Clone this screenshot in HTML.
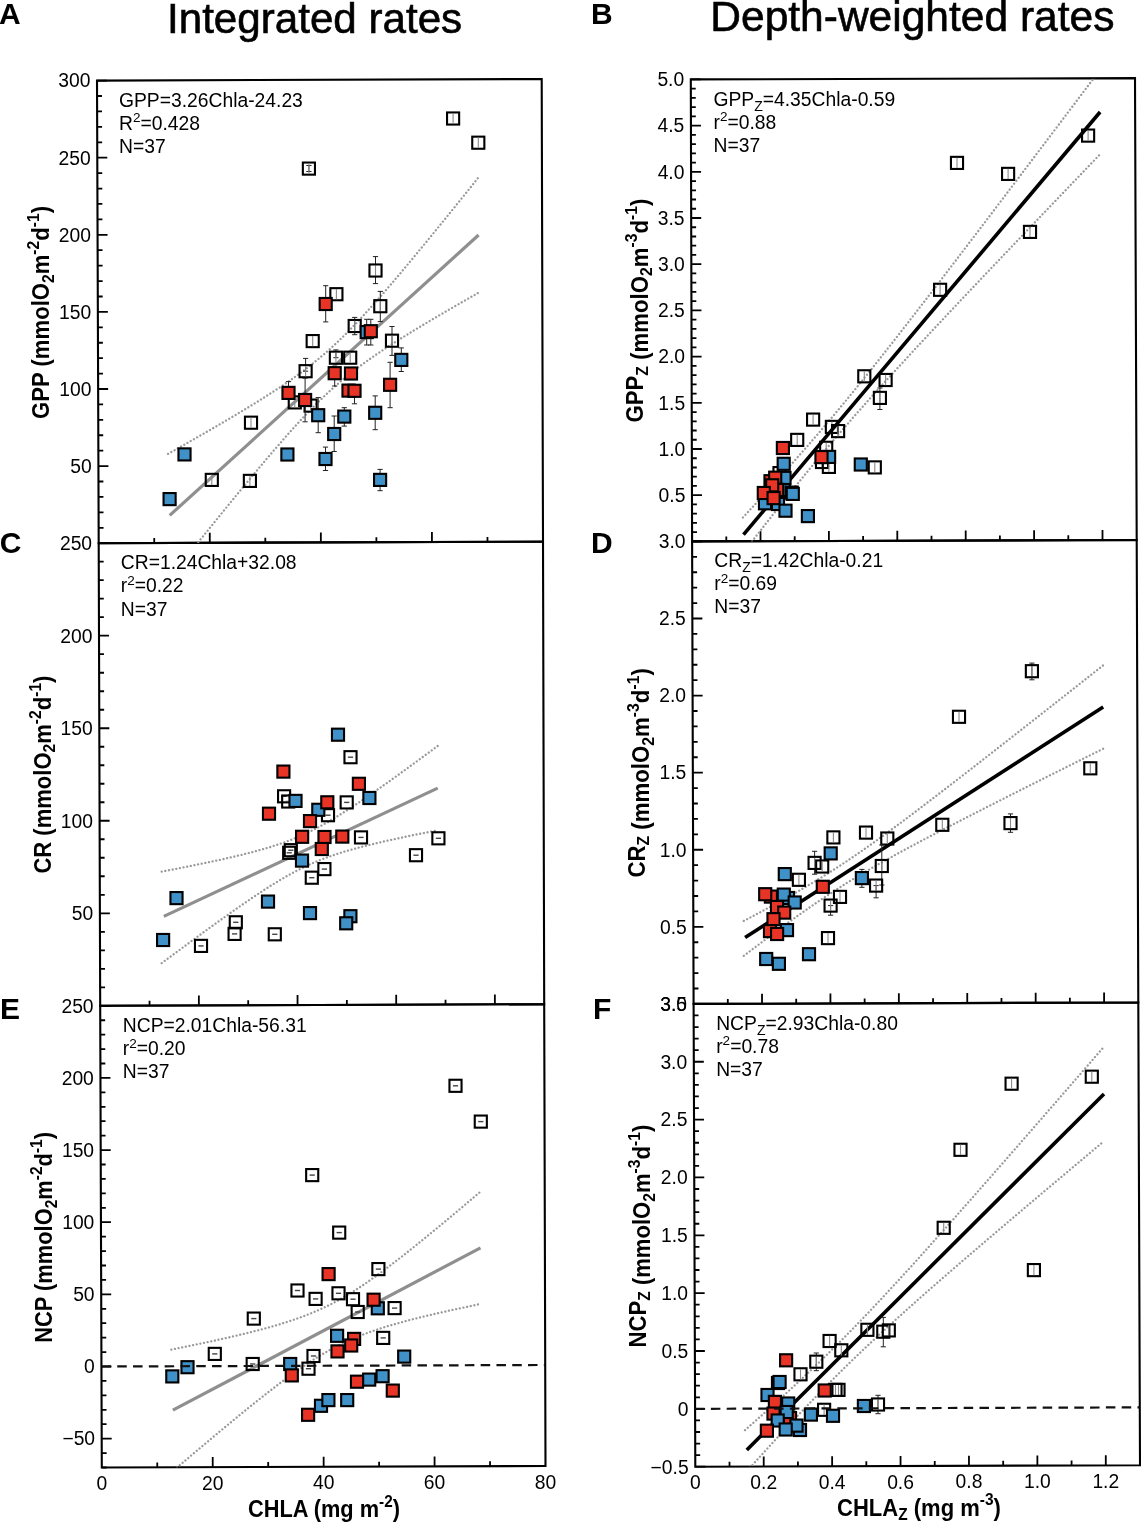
<!DOCTYPE html>
<html><head><meta charset="utf-8"><style>
html,body{margin:0;padding:0;background:#fff;width:1141px;height:1522px;overflow:hidden}
svg{display:block;will-change:transform}
text{font-family:"Liberation Sans", sans-serif;fill:#000}
</style></head><body>
<svg width="1141" height="1522" viewBox="0 0 1141 1522">
<rect width="1141" height="1522" fill="#fff"/>
<polygon points="97,80.6 541.7,79 543,541.6 98.7,543.2" fill="none" stroke="#000" stroke-width="2.1"/>
<polygon points="98.7,543.2 543,541.6 544.2,1004.2 100.2,1005.8" fill="none" stroke="#000" stroke-width="2.1"/>
<polygon points="100.2,1005.8 544.2,1004.2 545.5,1466 101.8,1467.5" fill="none" stroke="#000" stroke-width="2.1"/>
<polygon points="690.8,79.4 1135,78.1 1136.7,540 692.1,541.4" fill="none" stroke="#000" stroke-width="2.1"/>
<polygon points="692.1,541.4 1136.7,540 1138.3,1002.5 693.6,1003.9" fill="none" stroke="#000" stroke-width="2.1"/>
<polygon points="693.6,1003.9 1138.3,1002.5 1140,1465.2 695.3,1466.7" fill="none" stroke="#000" stroke-width="2.1"/>
<path d="M98.7 543.2h10M98.64 527.78h4.9M98.59 512.36h4.9M98.53 496.94h4.9M98.47 481.52h4.9M98.42 466.1h10M98.36 450.68h4.9M98.3 435.26h4.9M98.25 419.84h4.9M98.19 404.42h4.9M98.13 389h10M98.08 373.58h4.9M98.02 358.16h4.9M97.96 342.74h4.9M97.91 327.32h4.9M97.85 311.9h10M97.79 296.48h4.9M97.74 281.06h4.9M97.68 265.64h4.9M97.62 250.22h4.9M97.57 234.8h10M97.51 219.38h4.9M97.45 203.96h4.9M97.4 188.54h4.9M97.34 173.12h4.9M97.28 157.7h10M97.23 142.28h4.9M97.17 126.86h4.9M97.11 111.44h4.9M97.06 96.02h4.9M97 80.6h10" stroke="#000" stroke-width="1.8" fill="none"/>
<text x="91.82" y="472.9" font-size="19.3" text-anchor="end" font-weight="normal">50</text>
<text x="91.53" y="395.8" font-size="19.3" text-anchor="end" font-weight="normal">100</text>
<text x="91.25" y="318.7" font-size="19.3" text-anchor="end" font-weight="normal">150</text>
<text x="90.97" y="241.6" font-size="19.3" text-anchor="end" font-weight="normal">200</text>
<text x="90.68" y="164.5" font-size="19.3" text-anchor="end" font-weight="normal">250</text>
<text x="90.4" y="87.4" font-size="19.3" text-anchor="end" font-weight="normal">300</text>
<path d="M100.2 1005.8h10M100.14 987.3h4.9M100.08 968.79h4.9M100.02 950.29h4.9M99.96 931.78h4.9M99.9 913.28h10M99.84 894.78h4.9M99.78 876.27h4.9M99.72 857.77h4.9M99.66 839.26h4.9M99.6 820.76h10M99.54 802.26h4.9M99.48 783.75h4.9M99.42 765.25h4.9M99.36 746.74h4.9M99.3 728.24h10M99.24 709.74h4.9M99.18 691.23h4.9M99.12 672.73h4.9M99.06 654.22h4.9M99 635.72h10M98.94 617.22h4.9M98.88 598.71h4.9M98.82 580.21h4.9M98.76 561.7h4.9M98.7 543.2h10" stroke="#000" stroke-width="1.8" fill="none"/>
<text x="93.3" y="920.08" font-size="19.3" text-anchor="end" font-weight="normal">50</text>
<text x="93" y="827.56" font-size="19.3" text-anchor="end" font-weight="normal">100</text>
<text x="92.7" y="735.04" font-size="19.3" text-anchor="end" font-weight="normal">150</text>
<text x="92.4" y="642.52" font-size="19.3" text-anchor="end" font-weight="normal">200</text>
<text x="92.1" y="550" font-size="19.3" text-anchor="end" font-weight="normal">250</text>
<path d="M101.8 1467.5h4.9M101.75 1453.07h4.9M101.7 1438.64h10M101.65 1424.22h4.9M101.6 1409.79h4.9M101.55 1395.36h4.9M101.5 1380.93h4.9M101.45 1366.5h10M101.4 1352.08h4.9M101.35 1337.65h4.9M101.3 1323.22h4.9M101.25 1308.79h4.9M101.2 1294.36h10M101.15 1279.93h4.9M101.1 1265.51h4.9M101.05 1251.08h4.9M101 1236.65h4.9M100.95 1222.22h10M100.9 1207.79h4.9M100.85 1193.37h4.9M100.8 1178.94h4.9M100.75 1164.51h4.9M100.7 1150.08h10M100.65 1135.65h4.9M100.6 1121.22h4.9M100.55 1106.8h4.9M100.5 1092.37h4.9M100.45 1077.94h10M100.4 1063.51h4.9M100.35 1049.08h4.9M100.3 1034.66h4.9M100.25 1020.23h4.9M100.2 1005.8h10" stroke="#000" stroke-width="1.8" fill="none"/>
<text x="95.1" y="1445.44" font-size="19.3" text-anchor="end" font-weight="normal">−50</text>
<text x="94.85" y="1373.3" font-size="19.3" text-anchor="end" font-weight="normal">0</text>
<text x="94.6" y="1301.16" font-size="19.3" text-anchor="end" font-weight="normal">50</text>
<text x="94.35" y="1229.02" font-size="19.3" text-anchor="end" font-weight="normal">100</text>
<text x="94.1" y="1156.88" font-size="19.3" text-anchor="end" font-weight="normal">150</text>
<text x="93.85" y="1084.74" font-size="19.3" text-anchor="end" font-weight="normal">200</text>
<text x="93.6" y="1012.6" font-size="19.3" text-anchor="end" font-weight="normal">250</text>
<path d="M692.1 541.4h10M692.07 532.16h4.9M692.05 522.92h4.9M692.02 513.68h4.9M692 504.44h4.9M691.97 495.2h10M691.94 485.96h4.9M691.92 476.72h4.9M691.89 467.48h4.9M691.87 458.24h4.9M691.84 449h10M691.81 439.76h4.9M691.79 430.52h4.9M691.76 421.28h4.9M691.74 412.04h4.9M691.71 402.8h10M691.68 393.56h4.9M691.66 384.32h4.9M691.63 375.08h4.9M691.61 365.84h4.9M691.58 356.6h10M691.55 347.36h4.9M691.53 338.12h4.9M691.5 328.88h4.9M691.48 319.64h4.9M691.45 310.4h10M691.42 301.16h4.9M691.4 291.92h4.9M691.37 282.68h4.9M691.35 273.44h4.9M691.32 264.2h10M691.29 254.96h4.9M691.27 245.72h4.9M691.24 236.48h4.9M691.22 227.24h4.9M691.19 218h10M691.16 208.76h4.9M691.14 199.52h4.9M691.11 190.28h4.9M691.09 181.04h4.9M691.06 171.8h10M691.03 162.56h4.9M691.01 153.32h4.9M690.98 144.08h4.9M690.96 134.84h4.9M690.93 125.6h10M690.9 116.36h4.9M690.88 107.12h4.9M690.85 97.88h4.9M690.83 88.64h4.9M690.8 79.4h10" stroke="#000" stroke-width="1.8" fill="none"/>
<text x="685.37" y="502" font-size="19.3" text-anchor="end" font-weight="normal">0.5</text>
<text x="685.24" y="455.8" font-size="19.3" text-anchor="end" font-weight="normal">1.0</text>
<text x="685.11" y="409.6" font-size="19.3" text-anchor="end" font-weight="normal">1.5</text>
<text x="684.98" y="363.4" font-size="19.3" text-anchor="end" font-weight="normal">2.0</text>
<text x="684.85" y="317.2" font-size="19.3" text-anchor="end" font-weight="normal">2.5</text>
<text x="684.72" y="271" font-size="19.3" text-anchor="end" font-weight="normal">3.0</text>
<text x="684.59" y="224.8" font-size="19.3" text-anchor="end" font-weight="normal">3.5</text>
<text x="684.46" y="178.6" font-size="19.3" text-anchor="end" font-weight="normal">4.0</text>
<text x="684.33" y="132.4" font-size="19.3" text-anchor="end" font-weight="normal">4.5</text>
<text x="684.2" y="86.2" font-size="19.3" text-anchor="end" font-weight="normal">5.0</text>
<path d="M693.6 1003.9h10M693.55 988.48h4.9M693.5 973.07h4.9M693.45 957.65h4.9M693.4 942.23h4.9M693.35 926.82h10M693.3 911.4h4.9M693.25 895.98h4.9M693.2 880.57h4.9M693.15 865.15h4.9M693.1 849.73h10M693.05 834.32h4.9M693 818.9h4.9M692.95 803.48h4.9M692.9 788.07h4.9M692.85 772.65h10M692.8 757.23h4.9M692.75 741.82h4.9M692.7 726.4h4.9M692.65 710.98h4.9M692.6 695.57h10M692.55 680.15h4.9M692.5 664.73h4.9M692.45 649.32h4.9M692.4 633.9h4.9M692.35 618.48h10M692.3 603.07h4.9M692.25 587.65h4.9M692.2 572.23h4.9M692.15 556.82h4.9M692.1 541.4h10" stroke="#000" stroke-width="1.8" fill="none"/>
<text x="686.75" y="933.62" font-size="19.3" text-anchor="end" font-weight="normal">0.5</text>
<text x="686.5" y="856.53" font-size="19.3" text-anchor="end" font-weight="normal">1.0</text>
<text x="686.25" y="779.45" font-size="19.3" text-anchor="end" font-weight="normal">1.5</text>
<text x="686" y="702.37" font-size="19.3" text-anchor="end" font-weight="normal">2.0</text>
<text x="685.75" y="625.28" font-size="19.3" text-anchor="end" font-weight="normal">2.5</text>
<text x="685.5" y="548.2" font-size="19.3" text-anchor="end" font-weight="normal">3.0</text>
<path d="M695.3 1466.7h10M695.26 1455.13h4.9M695.22 1443.56h4.9M695.17 1431.99h4.9M695.13 1420.42h4.9M695.09 1408.85h10M695.05 1397.28h4.9M695 1385.71h4.9M694.96 1374.14h4.9M694.92 1362.57h4.9M694.87 1351h10M694.83 1339.43h4.9M694.79 1327.86h4.9M694.75 1316.29h4.9M694.71 1304.72h4.9M694.66 1293.15h10M694.62 1281.58h4.9M694.58 1270.01h4.9M694.54 1258.44h4.9M694.49 1246.87h4.9M694.45 1235.3h10M694.41 1223.73h4.9M694.37 1212.16h4.9M694.32 1200.59h4.9M694.28 1189.02h4.9M694.24 1177.45h10M694.19 1165.88h4.9M694.15 1154.31h4.9M694.11 1142.74h4.9M694.07 1131.17h4.9M694.03 1119.6h10M693.98 1108.03h4.9M693.94 1096.46h4.9M693.9 1084.89h4.9M693.86 1073.32h4.9M693.81 1061.75h10M693.77 1050.18h4.9M693.73 1038.61h4.9M693.69 1027.04h4.9M693.64 1015.47h4.9M693.6 1003.9h10" stroke="#000" stroke-width="1.8" fill="none"/>
<text x="688.7" y="1473.5" font-size="19.3" text-anchor="end" font-weight="normal">−0.5</text>
<text x="688.49" y="1415.65" font-size="19.3" text-anchor="end" font-weight="normal">0</text>
<text x="688.27" y="1357.8" font-size="19.3" text-anchor="end" font-weight="normal">0.5</text>
<text x="688.06" y="1299.95" font-size="19.3" text-anchor="end" font-weight="normal">1.0</text>
<text x="687.85" y="1242.1" font-size="19.3" text-anchor="end" font-weight="normal">1.5</text>
<text x="687.64" y="1184.25" font-size="19.3" text-anchor="end" font-weight="normal">2.0</text>
<text x="687.43" y="1126.4" font-size="19.3" text-anchor="end" font-weight="normal">2.5</text>
<text x="687.21" y="1068.55" font-size="19.3" text-anchor="end" font-weight="normal">3.0</text>
<text x="687" y="1010.7" font-size="19.3" text-anchor="end" font-weight="normal">3.5</text>
<text x="687" y="1010.7" font-size="19.3" text-anchor="end" font-weight="normal">3.0</text>
<path d="M154.24 543v-4.9M209.78 542.8v-10M265.31 542.6v-4.9M320.85 542.4v-10M376.39 542.2v-4.9M431.93 542v-10M487.46 541.8v-4.9" stroke="#000" stroke-width="1.8" fill="none"/>
<path d="M149.53 1005.62v-4.9M198.87 1005.44v-10M248.2 1005.27v-4.9M297.53 1005.09v-10M346.87 1004.91v-4.9M396.2 1004.73v-10M445.53 1004.56v-4.9M494.87 1004.38v-10" stroke="#000" stroke-width="1.8" fill="none"/>
<path d="M157.26 1467.31v-4.9M212.72 1467.12v-10M268.19 1466.94v-4.9M323.65 1466.75v-10M379.11 1466.56v-4.9M434.57 1466.38v-10M490.04 1466.19v-4.9" stroke="#000" stroke-width="1.8" fill="none"/>
<path d="M726.3 541.29v-4.9M760.5 541.18v-10M794.7 541.08v-4.9M828.9 540.97v-10M863.1 540.86v-4.9M897.3 540.75v-10M931.5 540.65v-4.9M965.7 540.54v-10M999.9 540.43v-4.9M1034.1 540.32v-10M1068.3 540.22v-4.9M1102.5 540.11v-10" stroke="#000" stroke-width="1.8" fill="none"/>
<path d="M727.81 1003.79v-4.9M762.02 1003.68v-10M796.22 1003.58v-4.9M830.43 1003.47v-10M864.64 1003.36v-4.9M898.85 1003.25v-10M933.05 1003.15v-4.9M967.26 1003.04v-10M1001.47 1002.93v-4.9M1035.68 1002.82v-10M1069.88 1002.72v-4.9M1104.09 1002.61v-10" stroke="#000" stroke-width="1.8" fill="none"/>
<path d="M729.51 1466.58v-4.9M763.72 1466.47v-10M797.92 1466.35v-4.9M832.13 1466.24v-10M866.34 1466.12v-4.9M900.55 1466.01v-10M934.75 1465.89v-4.9M968.96 1465.78v-10M1003.17 1465.66v-4.9M1037.38 1465.55v-10M1071.58 1465.43v-4.9M1105.79 1465.32v-10" stroke="#000" stroke-width="1.8" fill="none"/>
<text x="101.8" y="1490" font-size="19.3" text-anchor="middle" font-weight="normal">0</text>
<text x="212.72" y="1489.62" font-size="19.3" text-anchor="middle" font-weight="normal">20</text>
<text x="323.65" y="1489.25" font-size="19.3" text-anchor="middle" font-weight="normal">40</text>
<text x="434.57" y="1488.88" font-size="19.3" text-anchor="middle" font-weight="normal">60</text>
<text x="545.5" y="1488.5" font-size="19.3" text-anchor="middle" font-weight="normal">80</text>
<text x="695.3" y="1489.2" font-size="19.3" text-anchor="middle" font-weight="normal">0</text>
<text x="763.72" y="1488.97" font-size="19.3" text-anchor="middle" font-weight="normal">0.2</text>
<text x="832.13" y="1488.74" font-size="19.3" text-anchor="middle" font-weight="normal">0.4</text>
<text x="900.55" y="1488.51" font-size="19.3" text-anchor="middle" font-weight="normal">0.6</text>
<text x="968.96" y="1488.28" font-size="19.3" text-anchor="middle" font-weight="normal">0.8</text>
<text x="1037.38" y="1488.05" font-size="19.3" text-anchor="middle" font-weight="normal">1.0</text>
<text x="1105.79" y="1487.82" font-size="19.3" text-anchor="middle" font-weight="normal">1.2</text>
<text x="167" y="33" font-size="42.15" text-anchor="start" font-weight="normal" stroke="#000" stroke-width="0.6">Integrated rates</text>
<text x="710.3" y="31" font-size="42.53" text-anchor="start" font-weight="normal" stroke="#000" stroke-width="0.6">Depth-weighted rates</text>
<text x="-1" y="23.8" font-size="30" text-anchor="start" font-weight="bold">A</text>
<text x="591" y="24" font-size="30" text-anchor="start" font-weight="bold">B</text>
<text x="-0.2" y="552.7" font-size="30" text-anchor="start" font-weight="bold">C</text>
<text x="591" y="552.7" font-size="30" text-anchor="start" font-weight="bold">D</text>
<text x="0" y="1018.8" font-size="30" text-anchor="start" font-weight="bold">E</text>
<text x="593.1" y="1018.8" font-size="30" text-anchor="start" font-weight="bold">F</text>
<text x="119" y="106.8" font-size="19.3">GPP=3.26Chla-24.23</text>
<text x="119" y="129.7" font-size="19.3">R<tspan dy="-7.5" font-size="13.5">2</tspan><tspan dy="7.5">=0.428</tspan></text>
<text x="119" y="152.5" font-size="19.3">N=37</text>
<text x="120.8" y="568.7" font-size="19.3">CR=1.24Chla+32.08</text>
<text x="120.8" y="592.3" font-size="19.3">r<tspan dy="-7.5" font-size="13.5">2</tspan><tspan dy="7.5">=0.22</tspan></text>
<text x="120.8" y="615.5" font-size="19.3">N=37</text>
<text x="122.8" y="1031.7" font-size="19.3">NCP=2.01Chla-56.31</text>
<text x="122.8" y="1055" font-size="19.3">r<tspan dy="-7.5" font-size="13.5">2</tspan><tspan dy="7.5">=0.20</tspan></text>
<text x="122.8" y="1078.1" font-size="19.3">N=37</text>
<text x="713.5" y="105.7" font-size="19.3">GPP<tspan dy="5" font-size="14">Z</tspan><tspan dy="-5">=4.35Chla-0.59</tspan></text>
<text x="713.5" y="128.8" font-size="19.3">r<tspan dy="-7.5" font-size="13.5">2</tspan><tspan dy="7.5">=0.88</tspan></text>
<text x="713.5" y="151.6" font-size="19.3">N=37</text>
<text x="714.3" y="566.9" font-size="19.3">CR<tspan dy="5" font-size="14">Z</tspan><tspan dy="-5">=1.42Chla-0.21</tspan></text>
<text x="714.3" y="590.2" font-size="19.3">r<tspan dy="-7.5" font-size="13.5">2</tspan><tspan dy="7.5">=0.69</tspan></text>
<text x="714.3" y="613.4" font-size="19.3">N=37</text>
<text x="716.2" y="1029.9" font-size="19.3">NCP<tspan dy="5" font-size="14">Z</tspan><tspan dy="-5">=2.93Chla-0.80</tspan></text>
<text x="716.2" y="1052.7" font-size="19.3">r<tspan dy="-7.5" font-size="13.5">2</tspan><tspan dy="7.5">=0.78</tspan></text>
<text x="716.2" y="1075.5" font-size="19.3">N=37</text>
<text transform="translate(49.3,418.9) rotate(-90) scale(0.961,1)" x="0" y="0" font-size="23.0" font-weight="bold">GPP (mmolO<tspan dy="4.5" font-size="16.3">2</tspan><tspan dy="-4.5">m</tspan><tspan dy="-10.3" font-size="16.3">-2</tspan><tspan dy="10.3">d</tspan><tspan dy="-10.3" font-size="16.3">-1</tspan><tspan dy="10.3">)</tspan></text>
<text transform="translate(50.8,873.6) rotate(-90) scale(0.958,1)" x="0" y="0" font-size="23.0" font-weight="bold">CR (mmolO<tspan dy="4.5" font-size="16.3">2</tspan><tspan dy="-4.5">m</tspan><tspan dy="-10.3" font-size="16.3">-2</tspan><tspan dy="10.3">d</tspan><tspan dy="-10.3" font-size="16.3">-1</tspan><tspan dy="10.3">)</tspan></text>
<text transform="translate(52.1,1342.8) rotate(-90) scale(0.951,1)" x="0" y="0" font-size="23.0" font-weight="bold">NCP (mmolO<tspan dy="4.5" font-size="16.3">2</tspan><tspan dy="-4.5">m</tspan><tspan dy="-10.3" font-size="16.3">-2</tspan><tspan dy="10.3">d</tspan><tspan dy="-10.3" font-size="16.3">-1</tspan><tspan dy="10.3">)</tspan></text>
<text transform="translate(643,422.5) rotate(-90) scale(0.965,1)" x="0" y="0" font-size="23.0" font-weight="bold">GPP<tspan dy="4.5" font-size="16.3">Z</tspan><tspan dy="-4.5"></tspan> (mmolO<tspan dy="4.5" font-size="16.3">2</tspan><tspan dy="-4.5">m</tspan><tspan dy="-10.3" font-size="16.3">-3</tspan><tspan dy="10.3">d</tspan><tspan dy="-10.3" font-size="16.3">-1</tspan><tspan dy="10.3">)</tspan></text>
<text transform="translate(644.7,877.6) rotate(-90) scale(0.967,1)" x="0" y="0" font-size="23.0" font-weight="bold">CR<tspan dy="4.5" font-size="16.3">Z</tspan><tspan dy="-4.5"></tspan> (mmolO<tspan dy="4.5" font-size="16.3">2</tspan><tspan dy="-4.5">m</tspan><tspan dy="-10.3" font-size="16.3">-3</tspan><tspan dy="10.3">d</tspan><tspan dy="-10.3" font-size="16.3">-1</tspan><tspan dy="10.3">)</tspan></text>
<text transform="translate(645.5,1347.4) rotate(-90) scale(0.96,1)" x="0" y="0" font-size="23.0" font-weight="bold">NCP<tspan dy="4.5" font-size="16.3">Z</tspan><tspan dy="-4.5"></tspan> (mmolO<tspan dy="4.5" font-size="16.3">2</tspan><tspan dy="-4.5">m</tspan><tspan dy="-10.3" font-size="16.3">-3</tspan><tspan dy="10.3">d</tspan><tspan dy="-10.3" font-size="16.3">-1</tspan><tspan dy="10.3">)</tspan></text>
<text transform="translate(248,1517.3) scale(0.939,1)" font-size="23.2" font-weight="bold">CHLA (mg m<tspan dy="-10.3" font-size="16.3">-2</tspan><tspan dy="10.3">)</tspan></text>
<text transform="translate(837,1515.5) scale(0.95,1)" font-size="23.2" font-weight="bold">CHLA<tspan dy="4.5" font-size="16.3">Z</tspan><tspan dy="-4.5"> (mg m</tspan><tspan dy="-10.3" font-size="16.3">-3</tspan><tspan dy="10.3">)</tspan></text>
<clipPath id="clp1"><polygon points="97,80.6 541.7,79 543,541.6 98.7,543.2"/></clipPath>
<polyline clip-path="url(#clp1)" points="168.1,453.84 171.98,451.65 175.86,449.46 179.74,447.26 183.62,445.05 187.51,442.85 191.39,440.63 195.27,438.42 199.15,436.19 203.03,433.96 206.91,431.73 210.79,429.48 214.68,427.23 218.56,424.97 222.44,422.7 226.32,420.43 230.2,418.14 234.08,415.84 237.96,413.52 241.84,411.2 245.72,408.86 249.61,406.5 253.49,404.12 257.37,401.72 261.25,399.31 265.13,396.86 269.01,394.39 272.89,391.89 276.77,389.36 280.66,386.79 284.54,384.18 288.42,381.52 292.3,378.81 296.18,376.05 300.06,373.24 303.94,370.35 307.82,367.4 311.71,364.37 315.59,361.26 319.47,358.06 323.35,354.77 327.23,351.39 331.11,347.92 334.99,344.35 338.88,340.68 342.76,336.93 346.64,333.08 350.52,329.15 354.4,325.13 358.28,321.04 362.16,316.88 366.04,312.66 369.92,308.37 373.81,304.03 377.69,299.64 381.57,295.21 385.45,290.73 389.33,286.22 393.21,281.68 397.09,277.1 400.98,272.5 404.86,267.87 408.74,263.22 412.62,258.55 416.5,253.87 420.38,249.16 424.26,244.44 428.14,239.71 432.02,234.96 435.91,230.21 439.79,225.44 443.67,220.66 447.55,215.87 451.43,211.08 455.31,206.28 459.19,201.47 463.08,196.65 466.96,191.83 470.84,187 474.72,182.16 478.6,177.33" fill="none" stroke="#999999" stroke-width="2.3" stroke-dasharray="0.01 3.7" stroke-linecap="round"/>
<polyline clip-path="url(#clp1)" points="168.1,579.86 171.98,575.01 175.86,570.16 179.74,565.31 183.62,560.47 187.51,555.63 191.39,550.79 195.27,545.97 199.15,541.14 203.03,536.33 206.91,531.52 210.79,526.71 214.68,521.92 218.56,517.13 222.44,512.35 226.32,507.58 230.2,502.83 234.08,498.08 237.96,493.35 241.84,488.63 245.72,483.92 249.61,479.23 253.49,474.56 257.37,469.92 261.25,465.29 265.13,460.69 269.01,456.11 272.89,451.56 276.77,447.05 280.66,442.58 284.54,438.14 288.42,433.75 292.3,429.41 296.18,425.12 300.06,420.89 303.94,416.73 307.82,412.64 311.71,408.62 315.59,404.69 319.47,400.84 323.35,397.08 327.23,393.41 331.11,389.84 334.99,386.37 338.88,382.98 342.76,379.69 346.64,376.49 350.52,373.38 354.4,370.35 358.28,367.39 362.16,364.51 366.04,361.69 369.92,358.93 373.81,356.22 377.69,353.56 381.57,350.95 385.45,348.38 389.33,345.84 393.21,343.34 397.09,340.87 400.98,338.43 404.86,336.01 408.74,333.61 412.62,331.23 416.5,328.87 420.38,326.53 424.26,324.21 428.14,321.89 432.02,319.59 435.91,317.3 439.79,315.02 443.67,312.76 447.55,310.5 451.43,308.25 455.31,306 459.19,303.77 463.08,301.54 466.96,299.31 470.84,297.09 474.72,294.88 478.6,292.67" fill="none" stroke="#999999" stroke-width="2.3" stroke-dasharray="0.01 3.7" stroke-linecap="round"/>
<path d="M169.7 515.4L478.6 235" stroke="#8f8f8f" stroke-width="3.2" fill="none"/>
<path d="M308.9 165.5V171.5M306.3 165.5h5.2M306.3 171.5h5.2" stroke="#222" stroke-width="1.0" fill="none"/>
<rect x="302.85" y="162.55" width="12.1" height="12.1" fill="none" stroke="#000" stroke-width="2.1"/>
<path d="M308.9 163.45V173.75" stroke="#8a8a8a" stroke-width="1.1"/>
<rect x="447.05" y="112.45" width="12.1" height="12.1" fill="none" stroke="#000" stroke-width="2.1"/>
<path d="M453.1 113.35V123.65" stroke="#8a8a8a" stroke-width="1.1"/>
<rect x="472.25" y="136.65" width="12.1" height="12.1" fill="none" stroke="#000" stroke-width="2.1"/>
<path d="M478.3 137.55V147.85" stroke="#8a8a8a" stroke-width="1.1"/>
<path d="M375.5 256.6V283.6M372.9 256.6h5.2M372.9 283.6h5.2" stroke="#222" stroke-width="1.0" fill="none"/>
<rect x="369.45" y="264.45" width="12.1" height="12.1" fill="none" stroke="#000" stroke-width="2.1"/>
<path d="M375.5 265.35V275.65" stroke="#8a8a8a" stroke-width="1.1"/>
<rect x="330.35" y="288.15" width="12.1" height="12.1" fill="none" stroke="#000" stroke-width="2.1"/>
<path d="M336.4 289.05V299.35" stroke="#8a8a8a" stroke-width="1.1"/>
<path d="M380.3 291.4V321.6M377.7 291.4h5.2M377.7 321.6h5.2" stroke="#222" stroke-width="1.0" fill="none"/>
<rect x="374.25" y="300.15" width="12.1" height="12.1" fill="none" stroke="#000" stroke-width="2.1"/>
<path d="M380.3 301.05V311.35" stroke="#8a8a8a" stroke-width="1.1"/>
<path d="M354.7 317.4V334.7M352.1 317.4h5.2M352.1 334.7h5.2" stroke="#222" stroke-width="1.0" fill="none"/>
<rect x="348.65" y="319.95" width="12.1" height="12.1" fill="none" stroke="#000" stroke-width="2.1"/>
<path d="M354.7 320.85V331.15" stroke="#8a8a8a" stroke-width="1.1"/>
<path d="M392 326.5V355.4M389.4 326.5h5.2M389.4 355.4h5.2" stroke="#222" stroke-width="1.0" fill="none"/>
<rect x="385.95" y="334.65" width="12.1" height="12.1" fill="none" stroke="#000" stroke-width="2.1"/>
<path d="M392 335.55V345.85" stroke="#8a8a8a" stroke-width="1.1"/>
<rect x="306.65" y="335.05" width="12.1" height="12.1" fill="none" stroke="#000" stroke-width="2.1"/>
<path d="M312.7 335.95V346.25" stroke="#8a8a8a" stroke-width="1.1"/>
<path d="M335.9 349.9V357.7M333.3 349.9h5.2M333.3 357.7h5.2" stroke="#222" stroke-width="1.0" fill="none"/>
<rect x="329.85" y="351.65" width="12.1" height="12.1" fill="none" stroke="#000" stroke-width="2.1"/>
<path d="M335.9 352.55V362.85" stroke="#8a8a8a" stroke-width="1.1"/>
<rect x="344.15" y="351.65" width="12.1" height="12.1" fill="none" stroke="#000" stroke-width="2.1"/>
<path d="M350.2 352.55V362.85" stroke="#8a8a8a" stroke-width="1.1"/>
<path d="M305.6 358.4V371.2M303 358.4h5.2M303 371.2h5.2" stroke="#222" stroke-width="1.0" fill="none"/>
<rect x="299.55" y="365.15" width="12.1" height="12.1" fill="none" stroke="#000" stroke-width="2.1"/>
<path d="M305.6 366.05V376.35" stroke="#8a8a8a" stroke-width="1.1"/>
<rect x="288.75" y="396.35" width="12.1" height="12.1" fill="none" stroke="#000" stroke-width="2.1"/>
<path d="M294.8 397.25V407.55" stroke="#8a8a8a" stroke-width="1.1"/>
<rect x="304.55" y="399.55" width="12.1" height="12.1" fill="none" stroke="#000" stroke-width="2.1"/>
<path d="M310.6 400.45V410.75" stroke="#8a8a8a" stroke-width="1.1"/>
<rect x="244.95" y="416.65" width="12.1" height="12.1" fill="none" stroke="#000" stroke-width="2.1"/>
<path d="M251 417.55V427.85" stroke="#8a8a8a" stroke-width="1.1"/>
<rect x="205.75" y="473.85" width="12.1" height="12.1" fill="none" stroke="#000" stroke-width="2.1"/>
<path d="M211.8 474.75V485.05" stroke="#8a8a8a" stroke-width="1.1"/>
<rect x="243.85" y="474.85" width="12.1" height="12.1" fill="none" stroke="#000" stroke-width="2.1"/>
<path d="M249.9 475.75V486.05" stroke="#8a8a8a" stroke-width="1.1"/>
<path d="M366.7 319.3V345M364.1 319.3h5.2M364.1 345h5.2" stroke="#222" stroke-width="1.0" fill="none"/>
<rect x="360.65" y="326.05" width="12.1" height="12.1" fill="#3f91c8" stroke="#000" stroke-width="2.1"/>
<path d="M401.3 347.9V371.5M398.7 347.9h5.2M398.7 371.5h5.2" stroke="#222" stroke-width="1.0" fill="none"/>
<rect x="395.25" y="353.85" width="12.1" height="12.1" fill="#3f91c8" stroke="#000" stroke-width="2.1"/>
<path d="M318.2 397.6V432.7M315.6 397.6h5.2M315.6 432.7h5.2" stroke="#222" stroke-width="1.0" fill="none"/>
<rect x="312.15" y="409.15" width="12.1" height="12.1" fill="#3f91c8" stroke="#000" stroke-width="2.1"/>
<path d="M344.3 407.7V426.1M341.7 407.7h5.2M341.7 426.1h5.2" stroke="#222" stroke-width="1.0" fill="none"/>
<rect x="338.25" y="410.55" width="12.1" height="12.1" fill="#3f91c8" stroke="#000" stroke-width="2.1"/>
<path d="M375.2 395.9V429.7M372.6 395.9h5.2M372.6 429.7h5.2" stroke="#222" stroke-width="1.0" fill="none"/>
<rect x="369.15" y="406.75" width="12.1" height="12.1" fill="#3f91c8" stroke="#000" stroke-width="2.1"/>
<path d="M334.2 416V451.5M331.6 416h5.2M331.6 451.5h5.2" stroke="#222" stroke-width="1.0" fill="none"/>
<rect x="328.15" y="427.95" width="12.1" height="12.1" fill="#3f91c8" stroke="#000" stroke-width="2.1"/>
<rect x="281.35" y="448.45" width="12.1" height="12.1" fill="#3f91c8" stroke="#000" stroke-width="2.1"/>
<path d="M325.5 447.1V470.5M322.9 447.1h5.2M322.9 470.5h5.2" stroke="#222" stroke-width="1.0" fill="none"/>
<rect x="319.45" y="452.95" width="12.1" height="12.1" fill="#3f91c8" stroke="#000" stroke-width="2.1"/>
<path d="M380.1 469.4V490.7M377.5 469.4h5.2M377.5 490.7h5.2" stroke="#222" stroke-width="1.0" fill="none"/>
<rect x="374.05" y="473.85" width="12.1" height="12.1" fill="#3f91c8" stroke="#000" stroke-width="2.1"/>
<rect x="163.55" y="493.05" width="12.1" height="12.1" fill="#3f91c8" stroke="#000" stroke-width="2.1"/>
<rect x="178.45" y="448.35" width="12.1" height="12.1" fill="#3f91c8" stroke="#000" stroke-width="2.1"/>
<path d="M325.7 285.7V321.9M323.1 285.7h5.2M323.1 321.9h5.2" stroke="#222" stroke-width="1.0" fill="none"/>
<rect x="319.65" y="297.95" width="12.1" height="12.1" fill="#e83426" stroke="#000" stroke-width="2.1"/>
<path d="M370.8 319.3V345M368.2 319.3h5.2M368.2 345h5.2" stroke="#222" stroke-width="1.0" fill="none"/>
<rect x="364.75" y="325.15" width="12.1" height="12.1" fill="#e83426" stroke="#000" stroke-width="2.1"/>
<path d="M334.7 373.2V386M332.1 373.2h5.2M332.1 386h5.2" stroke="#222" stroke-width="1.0" fill="none"/>
<rect x="328.65" y="367.15" width="12.1" height="12.1" fill="#e83426" stroke="#000" stroke-width="2.1"/>
<rect x="344.95" y="367.45" width="12.1" height="12.1" fill="#e83426" stroke="#000" stroke-width="2.1"/>
<path d="M288.5 381.6V392.9M285.9 381.6h5.2M285.9 392.9h5.2" stroke="#222" stroke-width="1.0" fill="none"/>
<rect x="282.45" y="386.85" width="12.1" height="12.1" fill="#e83426" stroke="#000" stroke-width="2.1"/>
<path d="M305.1 378.2V421.8M302.5 378.2h5.2M302.5 421.8h5.2" stroke="#222" stroke-width="1.0" fill="none"/>
<rect x="299.05" y="393.95" width="12.1" height="12.1" fill="#e83426" stroke="#000" stroke-width="2.1"/>
<rect x="342.45" y="384.55" width="12.1" height="12.1" fill="#e83426" stroke="#000" stroke-width="2.1"/>
<path d="M354.5 390.8V403.8M351.9 390.8h5.2M351.9 403.8h5.2" stroke="#222" stroke-width="1.0" fill="none"/>
<rect x="348.45" y="384.75" width="12.1" height="12.1" fill="#e83426" stroke="#000" stroke-width="2.1"/>
<path d="M390.1 362.3V407.7M387.5 362.3h5.2M387.5 407.7h5.2" stroke="#222" stroke-width="1.0" fill="none"/>
<rect x="384.05" y="378.75" width="12.1" height="12.1" fill="#e83426" stroke="#000" stroke-width="2.1"/>
<clipPath id="clp2"><polygon points="98.7,543.2 543,541.6 544.2,1004.2 100.2,1005.8"/></clipPath>
<polyline clip-path="url(#clp2)" points="161.7,871.65 165.15,870.98 168.6,870.31 172.05,869.64 175.5,868.96 178.95,868.29 182.4,867.6 185.85,866.92 189.3,866.22 192.75,865.53 196.2,864.82 199.65,864.12 203.1,863.4 206.55,862.68 210,861.95 213.45,861.22 216.9,860.47 220.35,859.72 223.8,858.95 227.25,858.18 230.7,857.39 234.15,856.59 237.6,855.78 241.05,854.94 244.5,854.1 247.95,853.23 251.4,852.34 254.85,851.43 258.3,850.5 261.75,849.53 265.2,848.54 268.65,847.52 272.1,846.45 275.55,845.35 279,844.21 282.45,843.02 285.9,841.78 289.35,840.49 292.8,839.14 296.25,837.74 299.7,836.27 303.15,834.74 306.6,833.15 310.05,831.5 313.5,829.78 316.95,828 320.4,826.16 323.85,824.26 327.3,822.31 330.75,820.31 334.2,818.25 337.65,816.15 341.1,814.01 344.55,811.84 348,809.62 351.45,807.38 354.9,805.1 358.35,802.8 361.8,800.47 365.25,798.12 368.7,795.75 372.15,793.36 375.6,790.96 379.05,788.54 382.5,786.1 385.95,783.66 389.4,781.2 392.85,778.73 396.3,776.25 399.75,773.76 403.2,771.26 406.65,768.75 410.1,766.24 413.55,763.72 417,761.2 420.45,758.67 423.9,756.13 427.35,753.59 430.8,751.04 434.25,748.49 437.7,745.94" fill="none" stroke="#999999" stroke-width="2.3" stroke-dasharray="0.01 3.7" stroke-linecap="round"/>
<polyline clip-path="url(#clp2)" points="161.7,963.12 165.15,960.56 168.6,957.99 172.05,955.43 175.5,952.87 178.95,950.32 182.4,947.77 185.85,945.23 189.3,942.69 192.75,940.15 196.2,937.62 199.65,935.1 203.1,932.58 206.55,930.07 210,927.57 213.45,925.07 216.9,922.58 220.35,920.1 223.8,917.64 227.25,915.18 230.7,912.74 234.15,910.3 237.6,907.89 241.05,905.48 244.5,903.1 247.95,900.73 251.4,898.39 254.85,896.07 258.3,893.77 261.75,891.5 265.2,889.26 268.65,887.06 272.1,884.89 275.55,882.76 279,880.67 282.45,878.62 285.9,876.63 289.35,874.69 292.8,872.81 296.25,870.98 299.7,869.21 303.15,867.51 306.6,865.87 310.05,864.29 313.5,862.78 316.95,861.32 320.4,859.93 323.85,858.6 327.3,857.32 330.75,856.09 334.2,854.91 337.65,853.78 341.1,852.68 344.55,851.63 348,850.61 351.45,849.63 354.9,848.67 358.35,847.74 361.8,846.84 365.25,845.95 368.7,845.09 372.15,844.25 375.6,843.42 379.05,842.61 382.5,841.81 385.95,841.03 389.4,840.25 392.85,839.49 396.3,838.74 399.75,838 403.2,837.26 406.65,836.54 410.1,835.82 413.55,835.1 417,834.4 420.45,833.7 423.9,833 427.35,832.31 430.8,831.62 434.25,830.94 437.7,830.26" fill="none" stroke="#999999" stroke-width="2.3" stroke-dasharray="0.01 3.7" stroke-linecap="round"/>
<path d="M163.8 916.4L437.7 788.1" stroke="#8f8f8f" stroke-width="3.2" fill="none"/>
<rect x="344.45" y="751.15" width="12.1" height="12.1" fill="none" stroke="#000" stroke-width="2.1"/>
<path d="M347.9 757.2h5.2" stroke="#444" stroke-width="1.4"/>
<rect x="278.05" y="790.25" width="12.1" height="12.1" fill="none" stroke="#000" stroke-width="2.1"/>
<path d="M281.5 796.3h5.2" stroke="#444" stroke-width="1.4"/>
<rect x="282.15" y="795.45" width="12.1" height="12.1" fill="none" stroke="#000" stroke-width="2.1"/>
<path d="M285.6 801.5h5.2" stroke="#444" stroke-width="1.4"/>
<rect x="340.65" y="796.35" width="12.1" height="12.1" fill="none" stroke="#000" stroke-width="2.1"/>
<path d="M344.1 802.4h5.2" stroke="#444" stroke-width="1.4"/>
<rect x="354.95" y="831.35" width="12.1" height="12.1" fill="none" stroke="#000" stroke-width="2.1"/>
<path d="M358.4 837.4h5.2" stroke="#444" stroke-width="1.4"/>
<rect x="284.75" y="844.15" width="12.1" height="12.1" fill="none" stroke="#000" stroke-width="2.1"/>
<path d="M288.2 850.2h5.2" stroke="#444" stroke-width="1.4"/>
<rect x="283.15" y="846.75" width="12.1" height="12.1" fill="none" stroke="#000" stroke-width="2.1"/>
<path d="M286.6 852.8h5.2" stroke="#444" stroke-width="1.4"/>
<rect x="318.35" y="863.05" width="12.1" height="12.1" fill="none" stroke="#000" stroke-width="2.1"/>
<path d="M321.8 869.1h5.2" stroke="#444" stroke-width="1.4"/>
<rect x="305.75" y="871.65" width="12.1" height="12.1" fill="none" stroke="#000" stroke-width="2.1"/>
<path d="M309.2 877.7h5.2" stroke="#444" stroke-width="1.4"/>
<rect x="321.95" y="809.15" width="12.1" height="12.1" fill="none" stroke="#000" stroke-width="2.1"/>
<path d="M325.4 815.2h5.2" stroke="#444" stroke-width="1.4"/>
<rect x="409.95" y="849.15" width="12.1" height="12.1" fill="none" stroke="#000" stroke-width="2.1"/>
<path d="M413.4 855.2h5.2" stroke="#444" stroke-width="1.4"/>
<rect x="432.35" y="832.25" width="12.1" height="12.1" fill="none" stroke="#000" stroke-width="2.1"/>
<path d="M435.8 838.3h5.2" stroke="#444" stroke-width="1.4"/>
<rect x="229.75" y="916.25" width="12.1" height="12.1" fill="none" stroke="#000" stroke-width="2.1"/>
<path d="M233.2 922.3h5.2" stroke="#444" stroke-width="1.4"/>
<rect x="228.55" y="927.85" width="12.1" height="12.1" fill="none" stroke="#000" stroke-width="2.1"/>
<path d="M232 933.9h5.2" stroke="#444" stroke-width="1.4"/>
<rect x="268.75" y="928.25" width="12.1" height="12.1" fill="none" stroke="#000" stroke-width="2.1"/>
<path d="M272.2 934.3h5.2" stroke="#444" stroke-width="1.4"/>
<rect x="194.95" y="939.85" width="12.1" height="12.1" fill="none" stroke="#000" stroke-width="2.1"/>
<path d="M198.4 945.9h5.2" stroke="#444" stroke-width="1.4"/>
<rect x="331.95" y="728.65" width="12.1" height="12.1" fill="#3f91c8" stroke="#000" stroke-width="2.1"/>
<rect x="363.35" y="791.95" width="12.1" height="12.1" fill="#3f91c8" stroke="#000" stroke-width="2.1"/>
<rect x="289.45" y="794.85" width="12.1" height="12.1" fill="#3f91c8" stroke="#000" stroke-width="2.1"/>
<rect x="312.25" y="803.75" width="12.1" height="12.1" fill="#3f91c8" stroke="#000" stroke-width="2.1"/>
<rect x="295.95" y="854.55" width="12.1" height="12.1" fill="#3f91c8" stroke="#000" stroke-width="2.1"/>
<rect x="170.45" y="892.05" width="12.1" height="12.1" fill="#3f91c8" stroke="#000" stroke-width="2.1"/>
<rect x="157.05" y="933.95" width="12.1" height="12.1" fill="#3f91c8" stroke="#000" stroke-width="2.1"/>
<rect x="261.95" y="895.55" width="12.1" height="12.1" fill="#3f91c8" stroke="#000" stroke-width="2.1"/>
<rect x="303.95" y="907.05" width="12.1" height="12.1" fill="#3f91c8" stroke="#000" stroke-width="2.1"/>
<rect x="344.35" y="910.15" width="12.1" height="12.1" fill="#3f91c8" stroke="#000" stroke-width="2.1"/>
<rect x="340.15" y="917.25" width="12.1" height="12.1" fill="#3f91c8" stroke="#000" stroke-width="2.1"/>
<rect x="277.35" y="765.55" width="12.1" height="12.1" fill="#e83426" stroke="#000" stroke-width="2.1"/>
<rect x="352.85" y="777.75" width="12.1" height="12.1" fill="#e83426" stroke="#000" stroke-width="2.1"/>
<rect x="321.25" y="796.25" width="12.1" height="12.1" fill="#e83426" stroke="#000" stroke-width="2.1"/>
<rect x="262.95" y="807.65" width="12.1" height="12.1" fill="#e83426" stroke="#000" stroke-width="2.1"/>
<rect x="303.95" y="815.05" width="12.1" height="12.1" fill="#e83426" stroke="#000" stroke-width="2.1"/>
<rect x="296.05" y="830.75" width="12.1" height="12.1" fill="#e83426" stroke="#000" stroke-width="2.1"/>
<rect x="318.45" y="830.95" width="12.1" height="12.1" fill="#e83426" stroke="#000" stroke-width="2.1"/>
<rect x="336.25" y="830.55" width="12.1" height="12.1" fill="#e83426" stroke="#000" stroke-width="2.1"/>
<rect x="315.75" y="842.95" width="12.1" height="12.1" fill="#e83426" stroke="#000" stroke-width="2.1"/>
<clipPath id="clp3"><polygon points="100.2,1005.8 544.2,1004.2 545.5,1466 101.8,1467.5"/></clipPath>
<polyline clip-path="url(#clp3)" points="171.3,1349.62 175.17,1348.84 179.03,1348.05 182.9,1347.26 186.76,1346.47 190.62,1345.67 194.49,1344.86 198.36,1344.05 202.22,1343.24 206.09,1342.41 209.95,1341.58 213.81,1340.74 217.68,1339.89 221.55,1339.03 225.41,1338.17 229.28,1337.29 233.14,1336.4 237,1335.49 240.87,1334.58 244.74,1333.65 248.6,1332.7 252.47,1331.73 256.33,1330.75 260.19,1329.74 264.06,1328.71 267.93,1327.66 271.79,1326.58 275.65,1325.46 279.52,1324.32 283.38,1323.14 287.25,1321.91 291.12,1320.65 294.98,1319.34 298.85,1317.98 302.71,1316.56 306.58,1315.08 310.44,1313.54 314.31,1311.93 318.17,1310.25 322.03,1308.5 325.9,1306.67 329.76,1304.76 333.63,1302.77 337.5,1300.69 341.36,1298.54 345.23,1296.3 349.09,1293.99 352.96,1291.6 356.82,1289.14 360.69,1286.62 364.55,1284.02 368.41,1281.37 372.28,1278.66 376.14,1275.9 380.01,1273.1 383.88,1270.25 387.74,1267.35 391.61,1264.42 395.47,1261.46 399.34,1258.47 403.2,1255.45 407.07,1252.4 410.93,1249.33 414.79,1246.24 418.66,1243.13 422.52,1240 426.39,1236.85 430.25,1233.69 434.12,1230.51 437.99,1227.32 441.85,1224.12 445.72,1220.91 449.58,1217.69 453.44,1214.46 457.31,1211.22 461.18,1207.97 465.04,1204.72 468.9,1201.45 472.77,1198.19 476.63,1194.91 480.5,1191.63" fill="none" stroke="#999999" stroke-width="2.3" stroke-dasharray="0.01 3.7" stroke-linecap="round"/>
<polyline clip-path="url(#clp3)" points="171.3,1472.47 175.17,1469.17 179.03,1465.87 182.9,1462.58 186.76,1459.3 190.62,1456.01 194.49,1452.74 198.36,1449.47 202.22,1446.21 206.09,1442.95 209.95,1439.7 213.81,1436.46 217.68,1433.23 221.55,1430 225.41,1426.79 229.28,1423.59 233.14,1420.39 237,1417.22 240.87,1414.05 244.74,1410.9 248.6,1407.77 252.47,1404.65 256.33,1401.56 260.19,1398.48 264.06,1395.43 267.93,1392.4 271.79,1389.4 275.65,1386.44 279.52,1383.5 283.38,1380.6 287.25,1377.74 291.12,1374.93 294.98,1372.16 298.85,1369.44 302.71,1366.77 306.58,1364.17 310.44,1361.63 314.31,1359.16 318.17,1356.75 322.03,1354.43 325.9,1352.18 329.76,1350.01 333.63,1347.92 337.5,1345.91 341.36,1343.98 345.23,1342.14 349.09,1340.37 352.96,1338.67 356.82,1337.05 360.69,1335.5 364.55,1334.01 368.41,1332.58 372.28,1331.21 376.14,1329.89 380.01,1328.61 383.88,1327.38 387.74,1326.19 391.61,1325.04 395.47,1323.92 399.34,1322.83 403.2,1321.77 407.07,1320.74 410.93,1319.73 414.79,1318.74 418.66,1317.77 422.52,1316.82 426.39,1315.89 430.25,1314.97 434.12,1314.06 437.99,1313.17 441.85,1312.29 445.72,1311.42 449.58,1310.56 453.44,1309.71 457.31,1308.87 461.18,1308.03 465.04,1307.21 468.9,1306.39 472.77,1305.58 476.63,1304.77 480.5,1303.97" fill="none" stroke="#999999" stroke-width="2.3" stroke-dasharray="0.01 3.7" stroke-linecap="round"/>
<path d="M172.9 1410.2L480.5 1247.8" stroke="#8f8f8f" stroke-width="3.2" fill="none"/>
<rect x="449.45" y="1079.75" width="12.1" height="12.1" fill="none" stroke="#000" stroke-width="2.1"/>
<path d="M452.9 1085.8h5.2" stroke="#444" stroke-width="1.4"/>
<rect x="474.75" y="1115.55" width="12.1" height="12.1" fill="none" stroke="#000" stroke-width="2.1"/>
<path d="M478.2 1121.6h5.2" stroke="#444" stroke-width="1.4"/>
<rect x="306.15" y="1169.05" width="12.1" height="12.1" fill="none" stroke="#000" stroke-width="2.1"/>
<path d="M309.6 1175.1h5.2" stroke="#444" stroke-width="1.4"/>
<rect x="333.15" y="1226.55" width="12.1" height="12.1" fill="none" stroke="#000" stroke-width="2.1"/>
<path d="M336.6 1232.6h5.2" stroke="#444" stroke-width="1.4"/>
<rect x="372.35" y="1263.05" width="12.1" height="12.1" fill="none" stroke="#000" stroke-width="2.1"/>
<path d="M375.8 1269.1h5.2" stroke="#444" stroke-width="1.4"/>
<rect x="291.45" y="1284.45" width="12.1" height="12.1" fill="none" stroke="#000" stroke-width="2.1"/>
<path d="M294.9 1290.5h5.2" stroke="#444" stroke-width="1.4"/>
<rect x="309.55" y="1292.85" width="12.1" height="12.1" fill="none" stroke="#000" stroke-width="2.1"/>
<path d="M313 1298.9h5.2" stroke="#444" stroke-width="1.4"/>
<rect x="332.45" y="1287.25" width="12.1" height="12.1" fill="none" stroke="#000" stroke-width="2.1"/>
<path d="M335.9 1293.3h5.2" stroke="#444" stroke-width="1.4"/>
<rect x="346.95" y="1293.15" width="12.1" height="12.1" fill="none" stroke="#000" stroke-width="2.1"/>
<path d="M350.4 1299.2h5.2" stroke="#444" stroke-width="1.4"/>
<rect x="351.65" y="1305.95" width="12.1" height="12.1" fill="none" stroke="#000" stroke-width="2.1"/>
<path d="M355.1 1312h5.2" stroke="#444" stroke-width="1.4"/>
<rect x="388.55" y="1302.05" width="12.1" height="12.1" fill="none" stroke="#000" stroke-width="2.1"/>
<path d="M392 1308.1h5.2" stroke="#444" stroke-width="1.4"/>
<rect x="377.15" y="1331.85" width="12.1" height="12.1" fill="none" stroke="#000" stroke-width="2.1"/>
<path d="M380.6 1337.9h5.2" stroke="#444" stroke-width="1.4"/>
<rect x="247.75" y="1312.55" width="12.1" height="12.1" fill="none" stroke="#000" stroke-width="2.1"/>
<path d="M251.2 1318.6h5.2" stroke="#444" stroke-width="1.4"/>
<rect x="208.75" y="1347.85" width="12.1" height="12.1" fill="none" stroke="#000" stroke-width="2.1"/>
<path d="M212.2 1353.9h5.2" stroke="#444" stroke-width="1.4"/>
<rect x="246.65" y="1357.95" width="12.1" height="12.1" fill="none" stroke="#000" stroke-width="2.1"/>
<path d="M250.1 1364h5.2" stroke="#444" stroke-width="1.4"/>
<rect x="307.45" y="1349.95" width="12.1" height="12.1" fill="none" stroke="#000" stroke-width="2.1"/>
<path d="M310.9 1356h5.2" stroke="#444" stroke-width="1.4"/>
<rect x="302.45" y="1362.65" width="12.1" height="12.1" fill="none" stroke="#000" stroke-width="2.1"/>
<path d="M305.9 1368.7h5.2" stroke="#444" stroke-width="1.4"/>
<rect x="371.75" y="1302.25" width="12.1" height="12.1" fill="#3f91c8" stroke="#000" stroke-width="2.1"/>
<rect x="331.05" y="1329.75" width="12.1" height="12.1" fill="#3f91c8" stroke="#000" stroke-width="2.1"/>
<rect x="398.15" y="1350.55" width="12.1" height="12.1" fill="#3f91c8" stroke="#000" stroke-width="2.1"/>
<rect x="284.15" y="1357.95" width="12.1" height="12.1" fill="#3f91c8" stroke="#000" stroke-width="2.1"/>
<rect x="166.25" y="1370.35" width="12.1" height="12.1" fill="#3f91c8" stroke="#000" stroke-width="2.1"/>
<rect x="181.45" y="1361.15" width="12.1" height="12.1" fill="#3f91c8" stroke="#000" stroke-width="2.1"/>
<rect x="322.55" y="1268.05" width="12.1" height="12.1" fill="#e83426" stroke="#000" stroke-width="2.1"/>
<rect x="367.55" y="1293.65" width="12.1" height="12.1" fill="#e83426" stroke="#000" stroke-width="2.1"/>
<rect x="348.05" y="1332.85" width="12.1" height="12.1" fill="#e83426" stroke="#000" stroke-width="2.1"/>
<rect x="345.15" y="1339.45" width="12.1" height="12.1" fill="#e83426" stroke="#000" stroke-width="2.1"/>
<rect x="331.45" y="1345.35" width="12.1" height="12.1" fill="#e83426" stroke="#000" stroke-width="2.1"/>
<rect x="285.75" y="1369.35" width="12.1" height="12.1" fill="#e83426" stroke="#000" stroke-width="2.1"/>
<rect x="350.95" y="1375.65" width="12.1" height="12.1" fill="#e83426" stroke="#000" stroke-width="2.1"/>
<rect x="386.75" y="1384.55" width="12.1" height="12.1" fill="#e83426" stroke="#000" stroke-width="2.1"/>
<rect x="302.05" y="1408.75" width="12.1" height="12.1" fill="#e83426" stroke="#000" stroke-width="2.1"/>
<rect x="363.15" y="1373.55" width="12.1" height="12.1" fill="#3f91c8" stroke="#000" stroke-width="2.1"/>
<rect x="376.55" y="1370.15" width="12.1" height="12.1" fill="#3f91c8" stroke="#000" stroke-width="2.1"/>
<rect x="314.95" y="1399.75" width="12.1" height="12.1" fill="#3f91c8" stroke="#000" stroke-width="2.1"/>
<rect x="322.35" y="1394.05" width="12.1" height="12.1" fill="#3f91c8" stroke="#000" stroke-width="2.1"/>
<rect x="341.15" y="1394.05" width="12.1" height="12.1" fill="#3f91c8" stroke="#000" stroke-width="2.1"/>
<path d="M101.45 1366.5L545.22 1364.98" stroke="#111" stroke-width="2.2" stroke-dasharray="9.5 6.3" fill="none"/>
<clipPath id="clp4"><polygon points="690.8,79.4 1135,78.1 1136.7,540 692.1,541.4"/></clipPath>
<polyline clip-path="url(#clp4)" points="742.9,517.5 747.38,512.67 751.87,507.82 756.35,502.95 760.83,498.07 765.31,493.18 769.79,488.26 774.28,483.33 778.76,478.37 783.24,473.39 787.73,468.39 792.21,463.37 796.69,458.31 801.17,453.23 805.65,448.11 810.14,442.96 814.62,437.78 819.1,432.57 823.59,427.32 828.07,422.03 832.55,416.71 837.03,411.35 841.51,405.96 846,400.53 850.48,395.06 854.96,389.57 859.44,384.04 863.93,378.48 868.41,372.9 872.89,367.29 877.38,361.65 881.86,355.99 886.34,350.31 890.82,344.61 895.31,338.89 899.79,333.15 904.27,327.4 908.75,321.63 913.24,315.85 917.72,310.05 922.2,304.25 926.68,298.43 931.16,292.6 935.65,286.77 940.13,280.93 944.61,275.07 949.1,269.22 953.58,263.35 958.06,257.48 962.54,251.6 967.02,245.72 971.51,239.83 975.99,233.94 980.47,228.05 984.95,222.15 989.44,216.24 993.92,210.34 998.4,204.43 1002.88,198.51 1007.37,192.6 1011.85,186.68 1016.33,180.75 1020.82,174.83 1025.3,168.9 1029.78,162.98 1034.26,157.05 1038.74,151.11 1043.23,145.18 1047.71,139.24 1052.19,133.31 1056.67,127.37 1061.16,121.43 1065.64,115.49 1070.12,109.54 1074.61,103.6 1079.09,97.65 1083.57,91.71 1088.05,85.76 1092.54,79.81 1097.02,73.86 1101.5,67.91" fill="none" stroke="#999999" stroke-width="2.3" stroke-dasharray="0.01 3.7" stroke-linecap="round"/>
<polyline clip-path="url(#clp4)" points="742.9,553.12 747.38,547.33 751.87,541.56 756.35,535.8 760.83,530.05 765.31,524.33 769.79,518.62 774.28,512.93 778.76,507.26 783.24,501.61 787.73,495.99 792.21,490.39 796.69,484.82 801.17,479.28 805.65,473.77 810.14,468.29 814.62,462.85 819.1,457.44 823.59,452.07 828.07,446.73 832.55,441.43 837.03,436.16 841.51,430.93 846,425.74 850.48,420.58 854.96,415.45 859.44,410.35 863.93,405.28 868.41,400.24 872.89,395.23 877.38,390.24 881.86,385.28 886.34,380.34 890.82,375.41 895.31,370.51 899.79,365.62 904.27,360.75 908.75,355.9 913.24,351.05 917.72,346.22 922.2,341.41 926.68,336.6 931.16,331.8 935.65,327.01 940.13,322.23 944.61,317.46 949.1,312.69 953.58,307.93 958.06,303.18 962.54,298.43 967.02,293.69 971.51,288.95 975.99,284.22 980.47,279.49 984.95,274.77 989.44,270.05 993.92,265.33 998.4,260.61 1002.88,255.9 1007.37,251.2 1011.85,246.49 1016.33,241.79 1020.82,237.09 1025.3,232.39 1029.78,227.69 1034.26,223 1038.74,218.31 1043.23,213.62 1047.71,208.93 1052.19,204.24 1056.67,199.56 1061.16,194.87 1065.64,190.19 1070.12,185.51 1074.61,180.83 1079.09,176.15 1083.57,171.47 1088.05,166.8 1092.54,162.12 1097.02,157.45 1101.5,152.77" fill="none" stroke="#999999" stroke-width="2.3" stroke-dasharray="0.01 3.7" stroke-linecap="round"/>
<path d="M743.5 534.6L1100.1 112" stroke="#000" stroke-width="3.6" fill="none"/>
<rect x="1082.05" y="129.55" width="12.1" height="12.1" fill="none" stroke="#000" stroke-width="2.1"/>
<path d="M1088.1 130.45V140.75" stroke="#8a8a8a" stroke-width="1.1"/>
<rect x="950.95" y="156.85" width="12.1" height="12.1" fill="none" stroke="#000" stroke-width="2.1"/>
<path d="M957 157.75V168.05" stroke="#8a8a8a" stroke-width="1.1"/>
<rect x="1002.05" y="167.85" width="12.1" height="12.1" fill="none" stroke="#000" stroke-width="2.1"/>
<path d="M1008.1 168.75V179.05" stroke="#8a8a8a" stroke-width="1.1"/>
<rect x="1023.95" y="225.85" width="12.1" height="12.1" fill="none" stroke="#000" stroke-width="2.1"/>
<path d="M1030 226.75V237.05" stroke="#8a8a8a" stroke-width="1.1"/>
<rect x="934.05" y="283.75" width="12.1" height="12.1" fill="none" stroke="#000" stroke-width="2.1"/>
<path d="M940.1 284.65V294.95" stroke="#8a8a8a" stroke-width="1.1"/>
<rect x="858.25" y="370.25" width="12.1" height="12.1" fill="none" stroke="#000" stroke-width="2.1"/>
<path d="M864.3 371.15V381.45" stroke="#8a8a8a" stroke-width="1.1"/>
<rect x="879.55" y="373.95" width="12.1" height="12.1" fill="none" stroke="#000" stroke-width="2.1"/>
<path d="M885.6 374.85V385.15" stroke="#8a8a8a" stroke-width="1.1"/>
<path d="M879.9 388V409.5M877.3 388h5.2M877.3 409.5h5.2" stroke="#222" stroke-width="1.0" fill="none"/>
<rect x="873.85" y="391.85" width="12.1" height="12.1" fill="none" stroke="#000" stroke-width="2.1"/>
<path d="M879.9 392.75V403.05" stroke="#8a8a8a" stroke-width="1.1"/>
<rect x="807.05" y="413.55" width="12.1" height="12.1" fill="none" stroke="#000" stroke-width="2.1"/>
<path d="M813.1 414.45V424.75" stroke="#8a8a8a" stroke-width="1.1"/>
<rect x="825.85" y="420.85" width="12.1" height="12.1" fill="none" stroke="#000" stroke-width="2.1"/>
<path d="M831.9 421.75V432.05" stroke="#8a8a8a" stroke-width="1.1"/>
<rect x="832.05" y="425.05" width="12.1" height="12.1" fill="none" stroke="#000" stroke-width="2.1"/>
<path d="M838.1 425.95V436.25" stroke="#8a8a8a" stroke-width="1.1"/>
<rect x="791.15" y="433.85" width="12.1" height="12.1" fill="none" stroke="#000" stroke-width="2.1"/>
<path d="M797.2 434.75V445.05" stroke="#8a8a8a" stroke-width="1.1"/>
<rect x="820.15" y="441.75" width="12.1" height="12.1" fill="none" stroke="#000" stroke-width="2.1"/>
<path d="M826.2 442.65V452.95" stroke="#8a8a8a" stroke-width="1.1"/>
<rect x="868.75" y="461.35" width="12.1" height="12.1" fill="none" stroke="#000" stroke-width="2.1"/>
<path d="M874.8 462.25V472.55" stroke="#8a8a8a" stroke-width="1.1"/>
<rect x="815.95" y="455.95" width="12.1" height="12.1" fill="none" stroke="#000" stroke-width="2.1"/>
<path d="M822 456.85V467.15" stroke="#8a8a8a" stroke-width="1.1"/>
<rect x="822.85" y="460.85" width="12.1" height="12.1" fill="none" stroke="#000" stroke-width="2.1"/>
<path d="M828.9 461.75V472.05" stroke="#8a8a8a" stroke-width="1.1"/>
<rect x="773.45" y="467.05" width="12.1" height="12.1" fill="none" stroke="#000" stroke-width="2.1"/>
<path d="M779.5 467.95V478.25" stroke="#8a8a8a" stroke-width="1.1"/>
<rect x="854.75" y="458.45" width="12.1" height="12.1" fill="#3f91c8" stroke="#000" stroke-width="2.1"/>
<rect x="823.05" y="450.85" width="12.1" height="12.1" fill="#3f91c8" stroke="#000" stroke-width="2.1"/>
<rect x="777.65" y="457.75" width="12.1" height="12.1" fill="#3f91c8" stroke="#000" stroke-width="2.1"/>
<rect x="758.95" y="497.25" width="12.1" height="12.1" fill="#3f91c8" stroke="#000" stroke-width="2.1"/>
<rect x="771.95" y="497.95" width="12.1" height="12.1" fill="#3f91c8" stroke="#000" stroke-width="2.1"/>
<rect x="777.95" y="483.95" width="12.1" height="12.1" fill="#3f91c8" stroke="#000" stroke-width="2.1"/>
<rect x="785.65" y="486.55" width="12.1" height="12.1" fill="#3f91c8" stroke="#000" stroke-width="2.1"/>
<rect x="786.75" y="487.85" width="12.1" height="12.1" fill="#3f91c8" stroke="#000" stroke-width="2.1"/>
<rect x="779.45" y="504.65" width="12.1" height="12.1" fill="#3f91c8" stroke="#000" stroke-width="2.1"/>
<rect x="801.85" y="510.05" width="12.1" height="12.1" fill="#3f91c8" stroke="#000" stroke-width="2.1"/>
<rect x="776.85" y="441.95" width="12.1" height="12.1" fill="#e83426" stroke="#000" stroke-width="2.1"/>
<rect x="815.45" y="451.05" width="12.1" height="12.1" fill="#e83426" stroke="#000" stroke-width="2.1"/>
<rect x="764.45" y="475.15" width="12.1" height="12.1" fill="#e83426" stroke="#000" stroke-width="2.1"/>
<rect x="778.45" y="471.85" width="12.1" height="12.1" fill="#3f91c8" stroke="#000" stroke-width="2.1"/>
<rect x="769.15" y="471.65" width="12.1" height="12.1" fill="#e83426" stroke="#000" stroke-width="2.1"/>
<rect x="771.15" y="483.85" width="12.1" height="12.1" fill="#e83426" stroke="#000" stroke-width="2.1"/>
<rect x="766.15" y="479.25" width="12.1" height="12.1" fill="#e83426" stroke="#000" stroke-width="2.1"/>
<rect x="757.75" y="486.95" width="12.1" height="12.1" fill="#e83426" stroke="#000" stroke-width="2.1"/>
<rect x="767.55" y="492.05" width="12.1" height="12.1" fill="#e83426" stroke="#000" stroke-width="2.1"/>
<clipPath id="clp5"><polygon points="692.1,541.4 1136.7,540 1138.3,1002.5 693.6,1003.9"/></clipPath>
<polyline clip-path="url(#clp5)" points="743.8,920.87 748.29,918.51 752.78,916.13 757.28,913.74 761.77,911.34 766.26,908.92 770.75,906.49 775.25,904.04 779.74,901.58 784.23,899.09 788.72,896.57 793.22,894.04 797.71,891.47 802.2,888.88 806.69,886.25 811.19,883.59 815.68,880.9 820.17,878.16 824.66,875.39 829.16,872.58 833.65,869.72 838.14,866.82 842.63,863.88 847.13,860.9 851.62,857.88 856.11,854.82 860.61,851.72 865.1,848.58 869.59,845.41 874.08,842.21 878.58,838.99 883.07,835.73 887.56,832.45 892.05,829.15 896.54,825.83 901.04,822.49 905.53,819.14 910.02,815.76 914.51,812.38 919.01,808.98 923.5,805.57 927.99,802.15 932.49,798.72 936.98,795.28 941.47,791.83 945.96,788.37 950.46,784.91 954.95,781.44 959.44,777.97 963.93,774.49 968.42,771.01 972.92,767.52 977.41,764.02 981.9,760.53 986.39,757.03 990.89,753.52 995.38,750.02 999.87,746.51 1004.37,743 1008.86,739.48 1013.35,735.96 1017.84,732.44 1022.34,728.92 1026.83,725.4 1031.32,721.87 1035.81,718.35 1040.31,714.82 1044.8,711.29 1049.29,707.76 1053.78,704.23 1058.28,700.69 1062.77,697.16 1067.26,693.62 1071.75,690.08 1076.24,686.54 1080.74,683 1085.23,679.46 1089.72,675.92 1094.22,672.38 1098.71,668.84 1103.2,665.29" fill="none" stroke="#999999" stroke-width="2.3" stroke-dasharray="0.01 3.7" stroke-linecap="round"/>
<polyline clip-path="url(#clp5)" points="743.8,955.8 748.29,952.38 752.78,948.98 757.28,945.58 761.77,942.2 766.26,938.83 770.75,935.48 775.25,932.15 779.74,928.83 784.23,925.54 788.72,922.27 793.22,919.02 797.71,915.8 802.2,912.61 806.69,909.45 811.19,906.33 815.68,903.24 820.17,900.19 824.66,897.18 829.16,894.21 833.65,891.28 838.14,888.4 842.63,885.56 847.13,882.76 851.62,879.99 856.11,877.27 860.61,874.59 865.1,871.94 869.59,869.32 874.08,866.74 878.58,864.18 883.07,861.65 887.56,859.15 892.05,856.67 896.54,854.2 901.04,851.76 905.53,849.33 910.02,846.92 914.51,844.53 919.01,842.14 923.5,839.77 927.99,837.41 932.49,835.05 936.98,832.71 941.47,830.37 945.96,828.05 950.46,825.72 954.95,823.41 959.44,821.1 963.93,818.8 968.42,816.5 972.92,814.2 977.41,811.91 981.9,809.62 986.39,807.34 990.89,805.06 995.38,802.78 999.87,800.51 1004.37,798.24 1008.86,795.97 1013.35,793.7 1017.84,791.44 1022.34,789.18 1026.83,786.92 1031.32,784.66 1035.81,782.4 1040.31,780.15 1044.8,777.9 1049.29,775.64 1053.78,773.39 1058.28,771.14 1062.77,768.9 1067.26,766.65 1071.75,764.4 1076.24,762.16 1080.74,759.91 1085.23,757.67 1089.72,755.43 1094.22,753.19 1098.71,750.95 1103.2,748.71" fill="none" stroke="#999999" stroke-width="2.3" stroke-dasharray="0.01 3.7" stroke-linecap="round"/>
<path d="M745.1 937.5L1103.2 707" stroke="#000" stroke-width="3.6" fill="none"/>
<path d="M1031.9 663.1V679.8M1029.3 663.1h5.2M1029.3 679.8h5.2" stroke="#222" stroke-width="1.0" fill="none"/>
<rect x="1025.85" y="665.15" width="12.1" height="12.1" fill="none" stroke="#000" stroke-width="2.1"/>
<path d="M1031.9 666.05V676.35" stroke="#8a8a8a" stroke-width="1.1"/>
<rect x="952.95" y="710.75" width="12.1" height="12.1" fill="none" stroke="#000" stroke-width="2.1"/>
<path d="M959 711.65V721.95" stroke="#8a8a8a" stroke-width="1.1"/>
<rect x="1084.25" y="762.25" width="12.1" height="12.1" fill="none" stroke="#000" stroke-width="2.1"/>
<path d="M1090.3 763.15V773.45" stroke="#8a8a8a" stroke-width="1.1"/>
<path d="M1010.5 813.9V832.3M1007.9 813.9h5.2M1007.9 832.3h5.2" stroke="#222" stroke-width="1.0" fill="none"/>
<rect x="1004.45" y="817.05" width="12.1" height="12.1" fill="none" stroke="#000" stroke-width="2.1"/>
<path d="M1010.5 817.95V828.25" stroke="#8a8a8a" stroke-width="1.1"/>
<rect x="936.25" y="818.75" width="12.1" height="12.1" fill="none" stroke="#000" stroke-width="2.1"/>
<path d="M942.3 819.65V829.95" stroke="#8a8a8a" stroke-width="1.1"/>
<rect x="827.35" y="831.35" width="12.1" height="12.1" fill="none" stroke="#000" stroke-width="2.1"/>
<path d="M833.4 832.25V842.55" stroke="#8a8a8a" stroke-width="1.1"/>
<rect x="859.95" y="826.55" width="12.1" height="12.1" fill="none" stroke="#000" stroke-width="2.1"/>
<path d="M866 827.45V837.75" stroke="#8a8a8a" stroke-width="1.1"/>
<rect x="881.25" y="832.45" width="12.1" height="12.1" fill="none" stroke="#000" stroke-width="2.1"/>
<path d="M887.3 833.35V843.65" stroke="#8a8a8a" stroke-width="1.1"/>
<path d="M814.6 851.3V874.2M812 851.3h5.2M812 874.2h5.2" stroke="#222" stroke-width="1.0" fill="none"/>
<rect x="808.55" y="856.85" width="12.1" height="12.1" fill="none" stroke="#000" stroke-width="2.1"/>
<path d="M814.6 857.75V868.05" stroke="#8a8a8a" stroke-width="1.1"/>
<rect x="816.15" y="860.45" width="12.1" height="12.1" fill="none" stroke="#000" stroke-width="2.1"/>
<path d="M822.2 861.35V871.65" stroke="#8a8a8a" stroke-width="1.1"/>
<rect x="792.85" y="873.75" width="12.1" height="12.1" fill="none" stroke="#000" stroke-width="2.1"/>
<path d="M798.9 874.65V884.95" stroke="#8a8a8a" stroke-width="1.1"/>
<path d="M881.8 845V885M879.2 845h5.2M879.2 885h5.2" stroke="#222" stroke-width="1.0" fill="none"/>
<rect x="875.75" y="859.95" width="12.1" height="12.1" fill="none" stroke="#000" stroke-width="2.1"/>
<path d="M881.8 860.85V871.15" stroke="#8a8a8a" stroke-width="1.1"/>
<path d="M876.1 885.6V897.8M873.5 885.6h5.2M873.5 897.8h5.2" stroke="#222" stroke-width="1.0" fill="none"/>
<rect x="870.05" y="879.55" width="12.1" height="12.1" fill="none" stroke="#000" stroke-width="2.1"/>
<path d="M876.1 880.45V890.75" stroke="#8a8a8a" stroke-width="1.1"/>
<rect x="833.95" y="890.85" width="12.1" height="12.1" fill="none" stroke="#000" stroke-width="2.1"/>
<path d="M840 891.75V902.05" stroke="#8a8a8a" stroke-width="1.1"/>
<path d="M830.6 905.6V915.2M828 905.6h5.2M828 915.2h5.2" stroke="#222" stroke-width="1.0" fill="none"/>
<rect x="824.55" y="899.55" width="12.1" height="12.1" fill="none" stroke="#000" stroke-width="2.1"/>
<path d="M830.6 900.45V910.75" stroke="#8a8a8a" stroke-width="1.1"/>
<rect x="821.95" y="932.05" width="12.1" height="12.1" fill="none" stroke="#000" stroke-width="2.1"/>
<path d="M828 932.95V943.25" stroke="#8a8a8a" stroke-width="1.1"/>
<rect x="824.65" y="847.35" width="12.1" height="12.1" fill="#3f91c8" stroke="#000" stroke-width="2.1"/>
<rect x="778.75" y="868.05" width="12.1" height="12.1" fill="#3f91c8" stroke="#000" stroke-width="2.1"/>
<path d="M861.9 869.4V887.3M859.3 869.4h5.2M859.3 887.3h5.2" stroke="#222" stroke-width="1.0" fill="none"/>
<rect x="855.85" y="872.05" width="12.1" height="12.1" fill="#3f91c8" stroke="#000" stroke-width="2.1"/>
<rect x="781.95" y="891.95" width="12.1" height="12.1" fill="#3f91c8" stroke="#000" stroke-width="2.1"/>
<rect x="802.95" y="948.15" width="12.1" height="12.1" fill="#3f91c8" stroke="#000" stroke-width="2.1"/>
<rect x="760.15" y="952.95" width="12.1" height="12.1" fill="#3f91c8" stroke="#000" stroke-width="2.1"/>
<rect x="772.85" y="957.75" width="12.1" height="12.1" fill="#3f91c8" stroke="#000" stroke-width="2.1"/>
<rect x="816.75" y="880.75" width="12.1" height="12.1" fill="#e83426" stroke="#000" stroke-width="2.1"/>
<rect x="764.85" y="890.55" width="12.1" height="12.1" fill="#e83426" stroke="#000" stroke-width="2.1"/>
<rect x="759.15" y="888.15" width="12.1" height="12.1" fill="#e83426" stroke="#000" stroke-width="2.1"/>
<rect x="777.75" y="888.55" width="12.1" height="12.1" fill="#3f91c8" stroke="#000" stroke-width="2.1"/>
<rect x="788.65" y="896.45" width="12.1" height="12.1" fill="#3f91c8" stroke="#000" stroke-width="2.1"/>
<rect x="770.95" y="900.95" width="12.1" height="12.1" fill="#e83426" stroke="#000" stroke-width="2.1"/>
<rect x="778.15" y="906.55" width="12.1" height="12.1" fill="#e83426" stroke="#000" stroke-width="2.1"/>
<rect x="767.45" y="913.15" width="12.1" height="12.1" fill="#e83426" stroke="#000" stroke-width="2.1"/>
<rect x="780.95" y="924.05" width="12.1" height="12.1" fill="#3f91c8" stroke="#000" stroke-width="2.1"/>
<rect x="763.95" y="925.05" width="12.1" height="12.1" fill="#e83426" stroke="#000" stroke-width="2.1"/>
<rect x="771.05" y="927.95" width="12.1" height="12.1" fill="#e83426" stroke="#000" stroke-width="2.1"/>
<clipPath id="clp6"><polygon points="693.6,1003.9 1138.3,1002.5 1140,1465.2 695.3,1466.7"/></clipPath>
<polyline clip-path="url(#clp6)" points="745,1430.12 749.49,1426.18 753.98,1422.21 758.46,1418.23 762.95,1414.24 767.44,1410.23 771.92,1406.2 776.41,1402.15 780.9,1398.08 785.39,1393.98 789.88,1389.86 794.36,1385.72 798.85,1381.54 803.34,1377.34 807.83,1373.11 812.31,1368.84 816.8,1364.54 821.29,1360.21 825.77,1355.84 830.26,1351.44 834.75,1347 839.24,1342.52 843.73,1338 848.21,1333.45 852.7,1328.87 857.19,1324.24 861.67,1319.59 866.16,1314.9 870.65,1310.18 875.14,1305.43 879.62,1300.65 884.11,1295.84 888.6,1291.01 893.09,1286.15 897.58,1281.27 902.06,1276.37 906.55,1271.45 911.04,1266.51 915.52,1261.56 920.01,1256.58 924.5,1251.6 928.99,1246.6 933.48,1241.58 937.96,1236.56 942.45,1231.52 946.94,1226.48 951.42,1221.42 955.91,1216.36 960.4,1211.29 964.89,1206.21 969.38,1201.12 973.86,1196.03 978.35,1190.93 982.84,1185.82 987.33,1180.71 991.81,1175.59 996.3,1170.47 1000.79,1165.34 1005.27,1160.21 1009.76,1155.08 1014.25,1149.94 1018.74,1144.8 1023.23,1139.66 1027.71,1134.51 1032.2,1129.36 1036.69,1124.21 1041.17,1119.05 1045.66,1113.89 1050.15,1108.73 1054.64,1103.57 1059.12,1098.4 1063.61,1093.24 1068.1,1088.07 1072.59,1082.9 1077.08,1077.72 1081.56,1072.55 1086.05,1067.37 1090.54,1062.2 1095.03,1057.02 1099.51,1051.84 1104,1046.66" fill="none" stroke="#999999" stroke-width="2.3" stroke-dasharray="0.01 3.7" stroke-linecap="round"/>
<polyline clip-path="url(#clp6)" points="745,1473.26 749.49,1468.27 753.98,1463.29 758.46,1458.32 762.95,1453.37 767.44,1448.43 771.92,1443.52 776.41,1438.63 780.9,1433.75 785.39,1428.9 789.88,1424.08 794.36,1419.28 798.85,1414.51 803.34,1409.76 807.83,1405.05 812.31,1400.37 816.8,1395.73 821.29,1391.11 825.77,1386.54 830.26,1382 834.75,1377.49 839.24,1373.03 843.73,1368.6 848.21,1364.2 852.7,1359.85 857.19,1355.52 861.67,1351.23 866.16,1346.98 870.65,1342.75 875.14,1338.56 879.62,1334.4 884.11,1330.26 888.6,1326.15 893.09,1322.06 897.58,1317.99 902.06,1313.95 906.55,1309.92 911.04,1305.92 915.52,1301.93 920.01,1297.95 924.5,1294 928.99,1290.05 933.48,1286.12 937.96,1282.2 942.45,1278.29 946.94,1274.39 951.42,1270.5 955.91,1266.62 960.4,1262.75 964.89,1258.88 969.38,1255.03 973.86,1251.17 978.35,1247.33 982.84,1243.49 987.33,1239.66 991.81,1235.83 996.3,1232.01 1000.79,1228.19 1005.27,1224.37 1009.76,1220.56 1014.25,1216.75 1018.74,1212.95 1023.23,1209.15 1027.71,1205.35 1032.2,1201.56 1036.69,1197.77 1041.17,1193.98 1045.66,1190.19 1050.15,1186.41 1054.64,1182.63 1059.12,1178.85 1063.61,1175.07 1068.1,1171.29 1072.59,1167.52 1077.08,1163.75 1081.56,1159.98 1086.05,1156.21 1090.54,1152.44 1095.03,1148.67 1099.51,1144.91 1104,1141.14" fill="none" stroke="#999999" stroke-width="2.3" stroke-dasharray="0.01 3.7" stroke-linecap="round"/>
<path d="M746.8 1449.9L1104 1093.9" stroke="#000" stroke-width="3.6" fill="none"/>
<rect x="1085.75" y="1070.65" width="12.1" height="12.1" fill="none" stroke="#000" stroke-width="2.1"/>
<path d="M1091.8 1071.55V1081.85" stroke="#8a8a8a" stroke-width="1.1"/>
<rect x="1005.55" y="1077.65" width="12.1" height="12.1" fill="none" stroke="#000" stroke-width="2.1"/>
<path d="M1011.6 1078.55V1088.85" stroke="#8a8a8a" stroke-width="1.1"/>
<rect x="954.45" y="1143.75" width="12.1" height="12.1" fill="none" stroke="#000" stroke-width="2.1"/>
<path d="M960.5 1144.65V1154.95" stroke="#8a8a8a" stroke-width="1.1"/>
<rect x="937.65" y="1221.75" width="12.1" height="12.1" fill="none" stroke="#000" stroke-width="2.1"/>
<path d="M943.7 1222.65V1232.95" stroke="#8a8a8a" stroke-width="1.1"/>
<rect x="1027.85" y="1264.05" width="12.1" height="12.1" fill="none" stroke="#000" stroke-width="2.1"/>
<path d="M1033.9 1264.95V1275.25" stroke="#8a8a8a" stroke-width="1.1"/>
<rect x="861.35" y="1323.75" width="12.1" height="12.1" fill="none" stroke="#000" stroke-width="2.1"/>
<path d="M867.4 1324.65V1334.95" stroke="#8a8a8a" stroke-width="1.1"/>
<path d="M883.3 1317.4V1346.8M880.7 1317.4h5.2M880.7 1346.8h5.2" stroke="#222" stroke-width="1.0" fill="none"/>
<rect x="877.25" y="1325.65" width="12.1" height="12.1" fill="none" stroke="#000" stroke-width="2.1"/>
<path d="M883.3 1326.55V1336.85" stroke="#8a8a8a" stroke-width="1.1"/>
<rect x="882.75" y="1324.35" width="12.1" height="12.1" fill="none" stroke="#000" stroke-width="2.1"/>
<path d="M888.8 1325.25V1335.55" stroke="#8a8a8a" stroke-width="1.1"/>
<rect x="823.55" y="1334.95" width="12.1" height="12.1" fill="none" stroke="#000" stroke-width="2.1"/>
<path d="M829.6 1335.85V1346.15" stroke="#8a8a8a" stroke-width="1.1"/>
<rect x="835.25" y="1344.25" width="12.1" height="12.1" fill="none" stroke="#000" stroke-width="2.1"/>
<path d="M841.3 1345.15V1355.45" stroke="#8a8a8a" stroke-width="1.1"/>
<path d="M816.3 1353V1370.7M813.7 1353h5.2M813.7 1370.7h5.2" stroke="#222" stroke-width="1.0" fill="none"/>
<rect x="810.25" y="1355.65" width="12.1" height="12.1" fill="none" stroke="#000" stroke-width="2.1"/>
<path d="M816.3 1356.55V1366.85" stroke="#8a8a8a" stroke-width="1.1"/>
<rect x="794.45" y="1368.25" width="12.1" height="12.1" fill="none" stroke="#000" stroke-width="2.1"/>
<path d="M800.5 1369.15V1379.45" stroke="#8a8a8a" stroke-width="1.1"/>
<rect x="832.45" y="1383.85" width="12.1" height="12.1" fill="none" stroke="#000" stroke-width="2.1"/>
<path d="M838.5 1384.75V1395.05" stroke="#8a8a8a" stroke-width="1.1"/>
<rect x="829.45" y="1383.85" width="12.1" height="12.1" fill="none" stroke="#000" stroke-width="2.1"/>
<path d="M835.5 1384.75V1395.05" stroke="#8a8a8a" stroke-width="1.1"/>
<path d="M878 1395.3V1413.7M875.4 1395.3h5.2M875.4 1413.7h5.2" stroke="#222" stroke-width="1.0" fill="none"/>
<rect x="871.95" y="1398.45" width="12.1" height="12.1" fill="none" stroke="#000" stroke-width="2.1"/>
<path d="M878 1399.35V1409.65" stroke="#8a8a8a" stroke-width="1.1"/>
<rect x="818.05" y="1403.75" width="12.1" height="12.1" fill="none" stroke="#000" stroke-width="2.1"/>
<path d="M824.1 1404.65V1414.95" stroke="#8a8a8a" stroke-width="1.1"/>
<rect x="780.05" y="1354.25" width="12.1" height="12.1" fill="#e83426" stroke="#000" stroke-width="2.1"/>
<rect x="818.65" y="1384.45" width="12.1" height="12.1" fill="#e83426" stroke="#000" stroke-width="2.1"/>
<rect x="771.95" y="1376.95" width="12.1" height="12.1" fill="#e83426" stroke="#000" stroke-width="2.1"/>
<rect x="773.55" y="1375.95" width="12.1" height="12.1" fill="#3f91c8" stroke="#000" stroke-width="2.1"/>
<rect x="761.45" y="1388.95" width="12.1" height="12.1" fill="#3f91c8" stroke="#000" stroke-width="2.1"/>
<rect x="768.85" y="1395.85" width="12.1" height="12.1" fill="#e83426" stroke="#000" stroke-width="2.1"/>
<rect x="767.45" y="1407.55" width="12.1" height="12.1" fill="#e83426" stroke="#000" stroke-width="2.1"/>
<rect x="783.95" y="1411.95" width="12.1" height="12.1" fill="#e83426" stroke="#000" stroke-width="2.1"/>
<rect x="782.15" y="1397.45" width="12.1" height="12.1" fill="#3f91c8" stroke="#000" stroke-width="2.1"/>
<rect x="780.65" y="1405.95" width="12.1" height="12.1" fill="#3f91c8" stroke="#000" stroke-width="2.1"/>
<rect x="771.65" y="1414.45" width="12.1" height="12.1" fill="#3f91c8" stroke="#000" stroke-width="2.1"/>
<rect x="793.95" y="1423.95" width="12.1" height="12.1" fill="#3f91c8" stroke="#000" stroke-width="2.1"/>
<rect x="790.45" y="1419.55" width="12.1" height="12.1" fill="#3f91c8" stroke="#000" stroke-width="2.1"/>
<rect x="779.65" y="1423.45" width="12.1" height="12.1" fill="#3f91c8" stroke="#000" stroke-width="2.1"/>
<rect x="760.85" y="1424.65" width="12.1" height="12.1" fill="#e83426" stroke="#000" stroke-width="2.1"/>
<rect x="857.85" y="1399.95" width="12.1" height="12.1" fill="#3f91c8" stroke="#000" stroke-width="2.1"/>
<rect x="804.85" y="1408.55" width="12.1" height="12.1" fill="#3f91c8" stroke="#000" stroke-width="2.1"/>
<rect x="826.95" y="1409.75" width="12.1" height="12.1" fill="#3f91c8" stroke="#000" stroke-width="2.1"/>
<path d="M695.09 1408.85L1139.79 1407.36" stroke="#111" stroke-width="2.2" stroke-dasharray="9.5 6.3" fill="none"/>
</svg>
</body></html>
